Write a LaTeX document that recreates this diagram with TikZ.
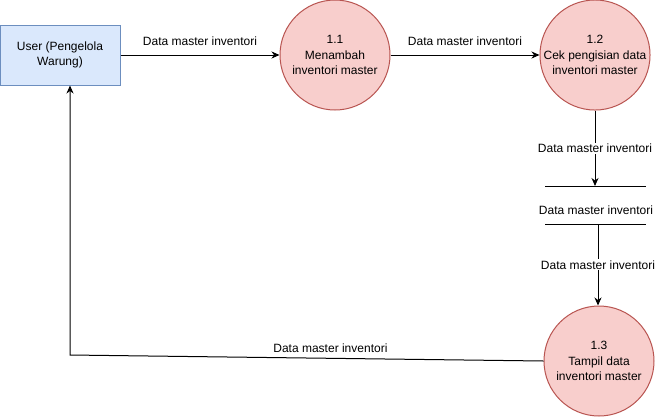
\documentclass[tikz,border=0pt]{standalone}
\usepackage{fontspec}
\setmainfont{Liberation Sans}
\usepackage{tikz}
\usetikzlibrary{positioning,arrows.meta}
\definecolor{procfill}{HTML}{F8CECC}
\definecolor{procdraw}{HTML}{B85450}
\definecolor{userfill}{HTML}{DAE8FC}
\definecolor{userdraw}{HTML}{6C8EBF}

\begin{document}
\begin{tikzpicture}[x=1pt,y=-1pt,font=\fontsize{12}{15.5}\selectfont,
  proc/.style={circle,draw=procdraw,fill=procfill,line width=1pt,minimum size=110pt,inner sep=0pt,align=center},
  flow/.style={draw,line width=1pt,-{Stealth[length=8pt,width=7pt,inset=2.5pt]}},
  lbl/.style={fill=white,inner sep=1pt}]
      \useasboundingbox (0,0) rectangle (669,416);
      \node[draw=userdraw,fill=userfill,line width=1pt,minimum width=120pt,minimum height=60pt,align=center](user) at (60,55){User (Pengelola\\Warung)};
      \node[proc](p11) at (335,55){1.1\\Menambah\\inventori master};
      \node[proc](p12) at (595,55){1.2\\Cek pengisian data\\inventori master};
      \node[proc](p13) at (599,361){1.3\\Tampil data\\inventori master};
      % data store
      \coordinate (stl) at (545,186);
      \coordinate (str) at (646,186);
      \coordinate (sbl) at (545,224);
      \coordinate (sbr) at (646,224);
      \draw[line width=1pt] (stl) -- (str);
      \draw[line width=1pt] (sbl) -- (sbr);
      \node(store) at (596,210){Data master inventori};
      % flows
      \draw[flow] (user) -- (p11) node[midway,above=6pt]{Data master inventori};
      \draw[flow] (p11) -- (p12) node[midway,above=6pt]{Data master inventori};
      \draw[flow] (p12.south) -- (p12.south |- stl) node[midway,lbl]{Data master inventori};
      \coordinate (sout) at (598,224);
      \draw[flow] (sout) -- (sout |- p13.north) node[midway,lbl]{Data master inventori};
      \coordinate (bend) at (70,355);
      \draw[flow] (p13.west) -- (bend) node[pos=0.45,above=2pt]{Data master inventori} -- (bend |- user.south);
    \end{tikzpicture}
\end{document}
